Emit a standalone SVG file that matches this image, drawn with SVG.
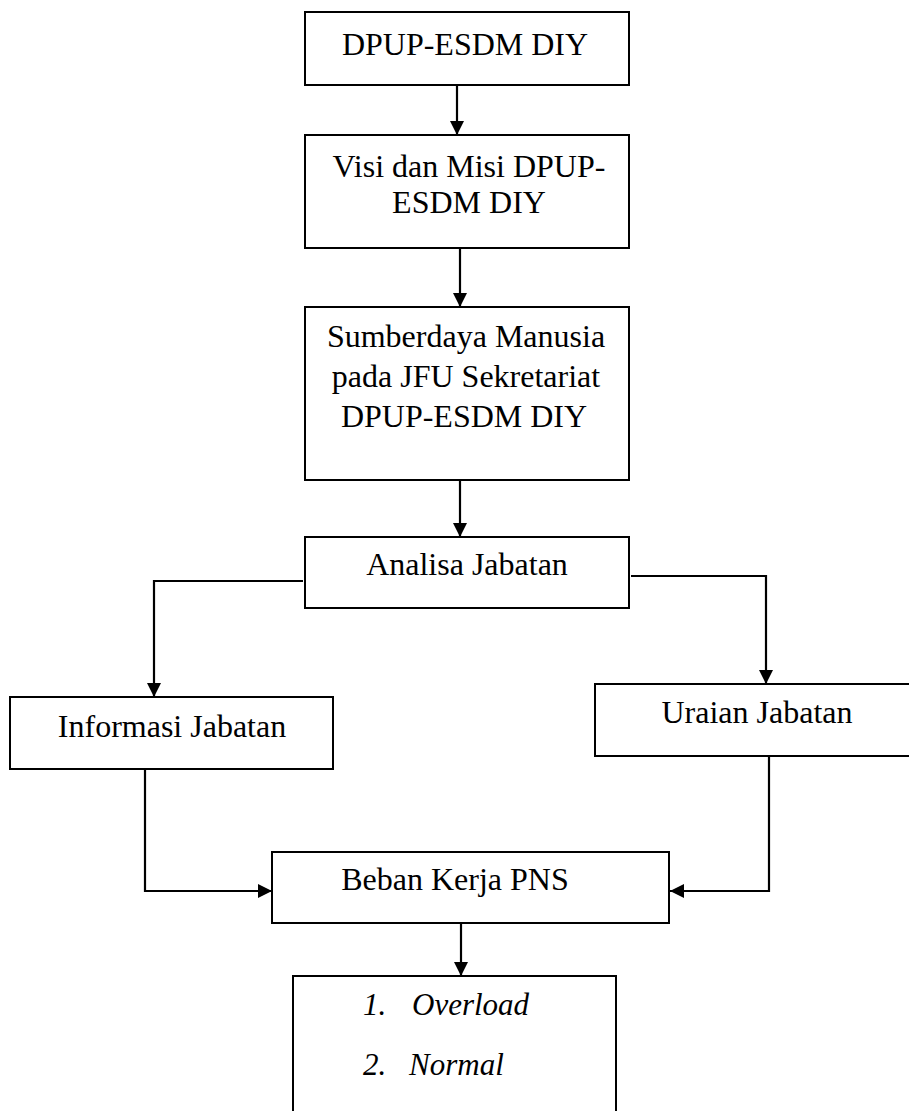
<svg xmlns="http://www.w3.org/2000/svg" width="909" height="1111" viewBox="0 0 909 1111">
<defs>
<marker id="arr" markerUnits="userSpaceOnUse" markerWidth="15" markerHeight="14" refX="14" refY="7" orient="auto">
<path d="M0,0 L14,7 L0,14 z" fill="#000"/>
</marker>
<style>
.box{fill:#fff;stroke:#000;stroke-width:2}
.t{font-family:"Liberation Serif","Times New Roman",serif;font-size:32px;fill:#000;text-anchor:middle}
.li{font-family:"Liberation Serif","Times New Roman",serif;font-size:31px;font-style:italic;fill:#000}
.c{fill:none;stroke:#000;stroke-width:2.2;marker-end:url(#arr)}
</style>
</defs>
<rect width="909" height="1111" fill="#fff"/>
<g id="n1"><rect class="box" x="305" y="12" width="324" height="73"/><text class="t" x="465" y="55">DPUP-ESDM DIY</text></g>
<g id="n2"><rect class="box" x="305" y="135" width="324" height="113"/><text class="t" x="469" y="177">Visi dan Misi DPUP-</text><text class="t" x="469" y="213">ESDM DIY</text></g>
<g id="n3"><rect class="box" x="305" y="307" width="324" height="173"/><text class="t" x="466" y="347">Sumberdaya Manusia</text><text class="t" x="466" y="387">pada JFU Sekretariat</text><text class="t" x="464" y="427">DPUP-ESDM DIY</text></g>
<g id="n4"><rect class="box" x="305" y="537" width="324" height="71"/><text class="t" x="467" y="575">Analisa Jabatan</text></g>
<g id="n5"><rect class="box" x="10" y="697" width="323" height="72"/><text class="t" x="172" y="737">Informasi Jabatan</text></g>
<g id="n6"><rect class="box" x="595" y="684" width="330" height="72"/><text class="t" x="757" y="723">Uraian Jabatan</text></g>
<g id="n7"><rect class="box" x="272" y="852" width="397" height="71"/><text class="t" x="455" y="890">Beban Kerja PNS</text></g>
<g id="n8"><rect class="box" x="293" y="976" width="323" height="150"/><text class="li" x="363" y="1015">1.</text><text class="li" x="412" y="1015">Overload</text><text class="li" x="363" y="1075">2.</text><text class="li" x="409" y="1075">Normal</text></g>
<g id="connectors">
<path class="c" d="M457,85 V135"/>
<path class="c" d="M460,248 V307"/>
<path class="c" d="M460,480 V537"/>
<path class="c" d="M303,581 H154 V697"/>
<path class="c" d="M631,576 H766 V684"/>
<path class="c" d="M145,769 V891 H272"/>
<path class="c" d="M769,756 V891 H670"/>
<path class="c" d="M461,923 V976"/>
</g>
</svg>
